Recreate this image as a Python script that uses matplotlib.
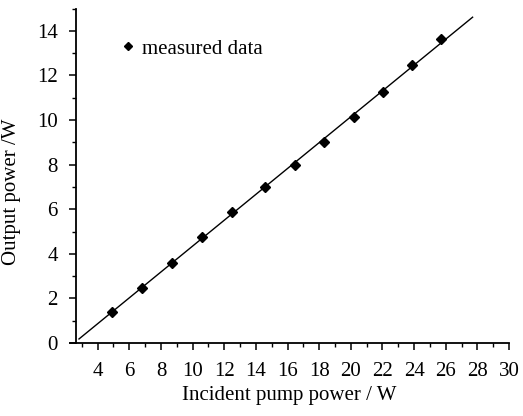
import matplotlib
matplotlib.use("Agg")
import matplotlib.pyplot as plt
import numpy as np
from matplotlib.ticker import MultipleLocator

pump_power = [4.9, 6.8, 8.7, 10.6, 12.5, 14.6, 16.5, 18.3, 20.2, 22.05, 23.9, 25.7]
output_power = [1.40, 2.48, 3.60, 4.74, 5.89, 6.98, 7.98, 9.03, 10.15, 11.27, 12.46, 13.63]
fit_range = [2.82, 27.7]
fit_slope = 0.58
fit_intercept = -1.455
xticks = [4, 6, 8, 10, 12, 14, 16, 18, 20, 22, 24, 26, 28, 30]
yticks = [0, 2, 4, 6, 8, 10, 12, 14]

plt.rcParams['font.family'] = ['Liberation Serif', 'DejaVu Serif']
fig = plt.figure(figsize=(5.23, 4.16), dpi=100)
ax = fig.add_axes([0.1338, 0.1755, 0.8394, 0.804])

fx = np.array(fit_range)
ax.plot(fx, fit_slope * fx + fit_intercept, color='black', lw=1.0)
ax.plot(pump_power, output_power, linestyle='none', marker='D', ms=5,
        color='black', label='measured data')

ax.set_xlim(2.25, 30)
ax.set_ylim(0, 15)
ax.spines['top'].set_visible(False)
ax.spines['right'].set_visible(False)
ax.spines['left'].set_position(('data', 2.62))
ax.spines['left'].set_linewidth(1.3)
ax.spines['bottom'].set_linewidth(1.3)

ax.set_xticks(xticks)
ax.set_yticks(yticks)
ax.xaxis.set_minor_locator(MultipleLocator(1))
ax.yaxis.set_minor_locator(MultipleLocator(1))
ax.tick_params(which='major', direction='out', length=5, width=1.1, labelsize=15)
ax.tick_params(which='minor', direction='out', length=3, width=1.0)
ax.tick_params(axis='x', pad=9)
ax.tick_params(axis='y', pad=8)

ax.set_xlabel('Incident pump power / W', fontsize=15)
ax.xaxis.set_label_coords(0.5, -0.13)
ax.set_ylabel('Output power /W', fontsize=15)
ax.yaxis.set_label_coords(-0.112, 0.451)

ax.legend(loc='upper left', bbox_to_anchor=(0.065, 0.965), frameon=False,
          fontsize=15, handletextpad=0.2, handlelength=1.0, markerscale=0.9)

fig.savefig('out.png', dpi=100)
